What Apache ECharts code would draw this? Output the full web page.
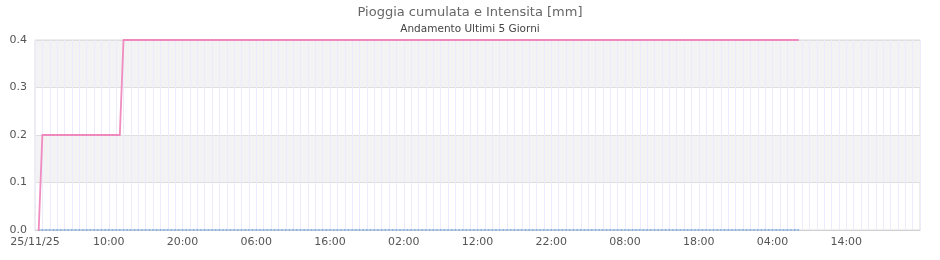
<!DOCTYPE html>
<html>
<head>
<meta charset="utf-8">
<script src="https://cdn.jsdelivr.net/npm/echarts@6/dist/echarts.min.js"></script>
<style>html,body{margin:0;padding:0;background:#fff}#c{width:940px;height:260px}</style>
</head>
<body>
<div id="c"></div>
<script>
// ---- data ----
const axisStart = '2025-11-25 00:00';      // left edge of the time axis
const firstSample = '2025-11-25 00:30';    // first reading
const sampleStepMinutes = 30;              // readings every 30 minutes
// cumulative rain [mm], one value per reading (00:30 on 25/11 ... 07:30 on 29/11)
const cumValues = [
  0,
  0.2, 0.2, 0.2, 0.2, 0.2, 0.2, 0.2, 0.2, 0.2, 0.2, 0.2,
  0.2, 0.2, 0.2, 0.2, 0.2, 0.2, 0.2, 0.2, 0.2, 0.2, 0.2,
  0.4, 0.4, 0.4, 0.4, 0.4, 0.4, 0.4, 0.4, 0.4, 0.4, 0.4, 0.4, 0.4, 0.4, 0.4, 0.4, 0.4, 0.4, 0.4, 0.4, 0.4, 0.4, 0.4,
  0.4, 0.4, 0.4, 0.4, 0.4, 0.4, 0.4, 0.4, 0.4, 0.4, 0.4, 0.4, 0.4, 0.4, 0.4, 0.4, 0.4, 0.4, 0.4, 0.4, 0.4, 0.4, 0.4,
  0.4, 0.4, 0.4, 0.4, 0.4, 0.4, 0.4, 0.4, 0.4, 0.4, 0.4, 0.4, 0.4, 0.4, 0.4, 0.4, 0.4, 0.4, 0.4, 0.4, 0.4, 0.4, 0.4,
  0.4, 0.4, 0.4, 0.4, 0.4, 0.4, 0.4, 0.4, 0.4, 0.4, 0.4, 0.4, 0.4, 0.4, 0.4, 0.4, 0.4, 0.4, 0.4, 0.4, 0.4, 0.4, 0.4,
  0.4, 0.4, 0.4, 0.4, 0.4, 0.4, 0.4, 0.4, 0.4, 0.4, 0.4, 0.4, 0.4, 0.4, 0.4, 0.4, 0.4, 0.4, 0.4, 0.4, 0.4, 0.4, 0.4,
  0.4, 0.4, 0.4, 0.4, 0.4, 0.4, 0.4, 0.4, 0.4, 0.4, 0.4, 0.4, 0.4, 0.4, 0.4, 0.4, 0.4, 0.4, 0.4, 0.4, 0.4, 0.4, 0.4,
  0.4, 0.4, 0.4, 0.4, 0.4, 0.4, 0.4, 0.4, 0.4, 0.4, 0.4, 0.4, 0.4, 0.4, 0.4, 0.4, 0.4, 0.4, 0.4, 0.4, 0.4, 0.4, 0.4,
  0.4, 0.4, 0.4, 0.4, 0.4, 0.4, 0.4, 0.4, 0.4, 0.4, 0.4, 0.4, 0.4, 0.4, 0.4, 0.4, 0.4, 0.4, 0.4, 0.4, 0.4, 0.4, 0.4
];
// rain intensity [mm], one value per reading
const intValues = [
  0,
  0, 0, 0, 0, 0, 0, 0, 0, 0, 0, 0,
  0, 0, 0, 0, 0, 0, 0, 0, 0, 0, 0,
  0, 0, 0, 0, 0, 0, 0, 0, 0, 0, 0, 0, 0, 0, 0, 0, 0, 0, 0, 0, 0, 0, 0,
  0, 0, 0, 0, 0, 0, 0, 0, 0, 0, 0, 0, 0, 0, 0, 0, 0, 0, 0, 0, 0, 0, 0,
  0, 0, 0, 0, 0, 0, 0, 0, 0, 0, 0, 0, 0, 0, 0, 0, 0, 0, 0, 0, 0, 0, 0,
  0, 0, 0, 0, 0, 0, 0, 0, 0, 0, 0, 0, 0, 0, 0, 0, 0, 0, 0, 0, 0, 0, 0,
  0, 0, 0, 0, 0, 0, 0, 0, 0, 0, 0, 0, 0, 0, 0, 0, 0, 0, 0, 0, 0, 0, 0,
  0, 0, 0, 0, 0, 0, 0, 0, 0, 0, 0, 0, 0, 0, 0, 0, 0, 0, 0, 0, 0, 0, 0,
  0, 0, 0, 0, 0, 0, 0, 0, 0, 0, 0, 0, 0, 0, 0, 0, 0, 0, 0, 0, 0, 0, 0,
  0, 0, 0, 0, 0, 0, 0, 0, 0, 0, 0, 0, 0, 0, 0, 0, 0, 0, 0, 0, 0, 0, 0
];
const xTickLabels = ['25/11/25', '10:00', '20:00', '06:00', '16:00', '02:00', '12:00', '22:00', '08:00', '18:00', '04:00', '14:00', '30/11/25'];
const yTickLabels = ['0.0', '0.1', '0.2', '0.3', '0.4'];
const titleText = 'Pioggia cumulata e Intensita [mm]';
const subtitleText = 'Andamento Ultimi 5 Giorni';

function parseUTC(s) {
  const p = s.split(/[- :]/).map(Number);
  return Date.UTC(p[0], p[1] - 1, p[2], p[3], p[4]);
}
const t0 = parseUTC(axisStart);
const tFirst = parseUTC(firstSample);
// x of each reading, in hours from the axis start
const sampleHour = i => (tFirst - t0) / 3600000 + i * sampleStepMinutes / 60;
const cumData = cumValues.map((v, i) => [sampleHour(i), v]);
const intData = intValues.map((v, i) => [sampleHour(i), v]);

const FONT = 'DejaVu Sans';
const chart = echarts.init(document.getElementById('c'), null, {renderer: 'canvas'});
chart.setOption({
  animation: false,
  backgroundColor: '#fff',
  title: {
    text: titleText,
    subtext: subtitleText,
    left: 'center',
    top: 1,
    itemGap: 5,
    textStyle: {fontFamily: FONT, fontSize: 13, fontWeight: 'normal', color: '#666'},
    subtextStyle: {fontFamily: FONT, fontSize: 10.5, color: '#444'}
  },
  grid: {left: 35, right: 20, top: 40, bottom: 30, show: true, borderColor: '#dcdcdc', borderWidth: 1, containLabel: false},
  xAxis: {
    type: 'value',
    min: 0, max: 120, interval: 10,
    axisLine: {show: true, lineStyle: {color: '#d0d0d0'}},
    axisTick: {show: false},
    axisLabel: {
      fontFamily: FONT, fontSize: 11, color: '#555', margin: 7, showMaxLabel: false,
      formatter: v => xTickLabels[Math.round(v / 10)] || ''
    },
    splitLine: {show: true, lineStyle: {color: '#ebebfc', width: 1}},
    minorTick: {show: false, splitNumber: 10},
    minorSplitLine: {show: true, lineStyle: {color: '#ebebfc', width: 1}}
  },
  yAxis: {
    type: 'value',
    min: 0, max: 0.4, interval: 0.1,
    axisLine: {show: false},
    axisTick: {show: false},
    axisLabel: {
      fontFamily: FONT, fontSize: 11, color: '#555', margin: 8,
      formatter: v => yTickLabels[Math.round(v * 10)]
    },
    splitLine: {show: true, lineStyle: {color: '#dedede'}},
    splitArea: {show: true, areaStyle: {color: ['rgba(255,255,255,0)', 'rgba(242,242,242,0.9)']}}
  },
  series: [
    {
      name: 'Intensita',
      type: 'line',
      data: intData,
      showSymbol: true,
      symbol: 'circle',
      symbolSize: 1.6,
      lineStyle: {color: '#8db6ec', width: 1.2},
      itemStyle: {color: '#6e9fe2'},
      z: 2
    },
    {
      name: 'Cumulata',
      type: 'line',
      data: cumData,
      showSymbol: true,
      symbol: 'circle',
      symbolSize: 1.6,
      lineStyle: {color: '#f08cc0', width: 1.8},
      itemStyle: {color: '#ea80b6'},
      z: 3
    }
  ]
});
</script>
</body>
</html>
